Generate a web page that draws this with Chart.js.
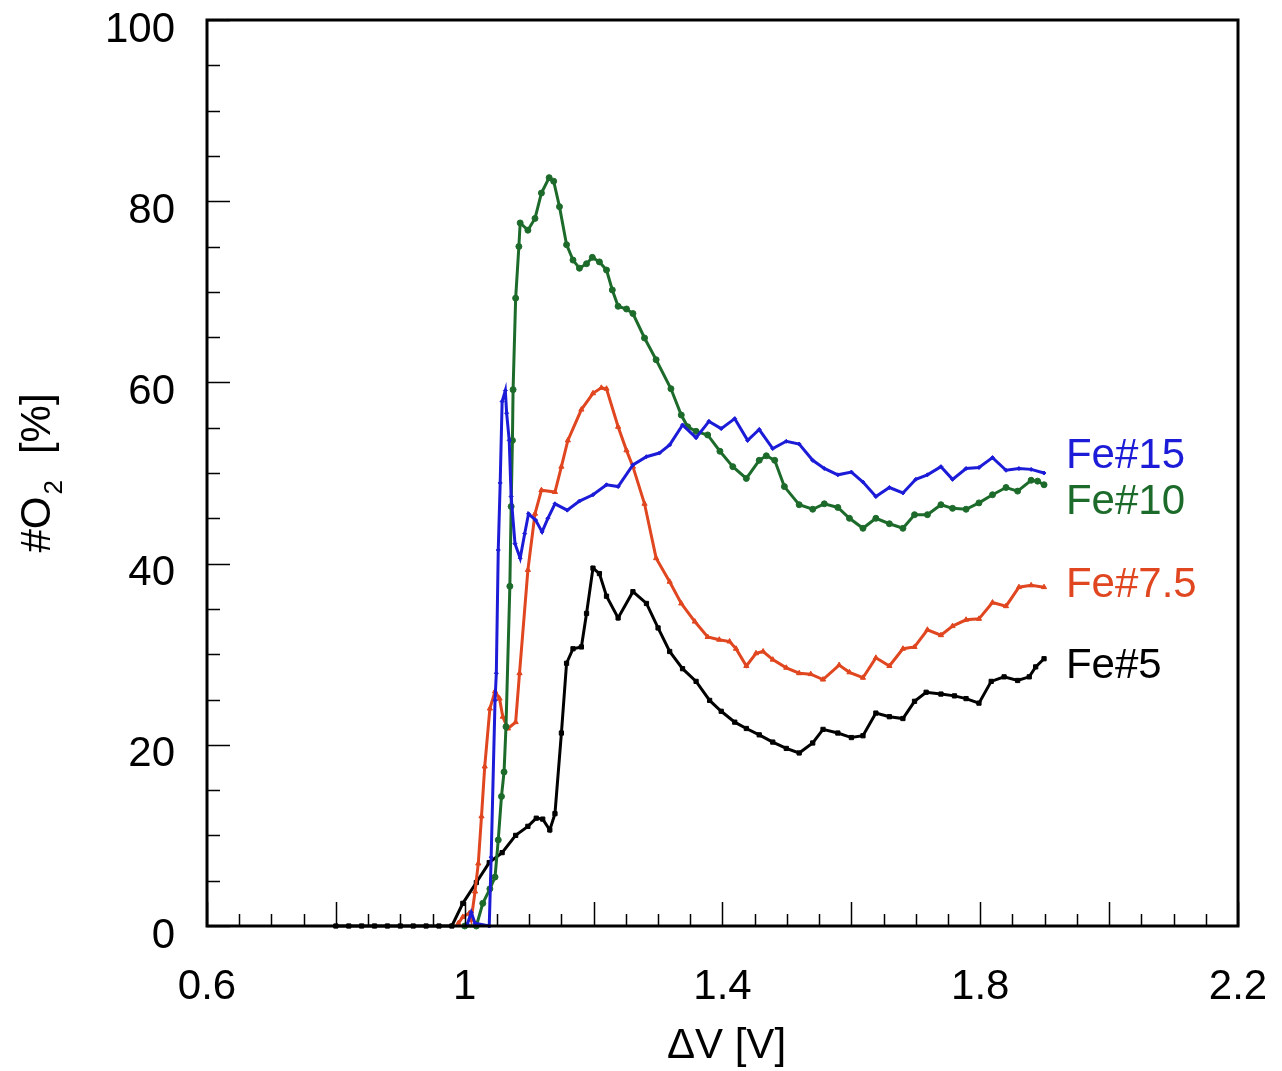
<!DOCTYPE html>
<html>
<head>
<meta charset="utf-8">
<script src="https://cdn.jsdelivr.net/npm/chart.js@4.4.1/dist/chart.umd.min.js"></script>
<style>
html,body{margin:0;padding:0;background:#fff;}
#wrap{width:1282px;height:1071px;position:relative;}
</style>
</head>
<body>
<div id="wrap"><canvas id="c"></canvas></div>
<script>
// ---------- data ----------
const xTickLabels = ['0.6','1','1.4','1.8','2.2'];
const yTickLabels = ['0','20','40','60','80','100'];
const seriesNames = ['Fe#15','Fe#10','Fe#7.5','Fe#5'];

const fe5X = [0.80,0.82,0.84,0.86,0.88,0.90,0.92,0.94,0.96,0.98,0.997,1.018,1.038,1.058,1.079,1.098,1.111,1.121,1.132,1.140,1.150,1.158,1.168,1.181,1.189,1.199,1.209,1.220,1.238,1.261,1.282,1.300,1.318,1.338,1.359,1.380,1.398,1.419,1.437,1.457,1.478,1.499,1.519,1.540,1.556,1.579,1.600,1.618,1.638,1.659,1.680,1.698,1.716,1.739,1.760,1.778,1.798,1.817,1.837,1.858,1.876,1.886,1.899];
const fe5Y = [0,0,0,0,0,0,0,0,0,0,2.5,4.8,7.0,8.1,10.0,11.0,11.9,11.8,10.6,12.4,21.3,29.0,30.6,30.8,34.5,39.5,38.9,36.4,34.0,36.9,35.6,32.9,30.3,28.4,27.0,24.9,23.7,22.5,21.8,21.1,20.3,19.6,19.1,20.2,21.7,21.3,20.8,21.0,23.5,23.1,22.9,24.8,25.8,25.6,25.4,25.1,24.6,27.0,27.5,27.1,27.5,28.6,29.5];

const fe75X = [0.990,0.997,1.007,1.010,1.016,1.021,1.026,1.031,1.039,1.047,1.054,1.059,1.067,1.079,1.085,1.098,1.109,1.119,1.140,1.150,1.160,1.181,1.199,1.212,1.220,1.238,1.251,1.261,1.279,1.297,1.318,1.336,1.357,1.377,1.395,1.411,1.421,1.437,1.452,1.463,1.478,1.499,1.519,1.537,1.556,1.581,1.597,1.618,1.638,1.659,1.680,1.698,1.718,1.739,1.757,1.778,1.798,1.819,1.840,1.860,1.879,1.899];
const fe75Y = [0.3,1.0,1.4,0.7,3.8,6.9,12.1,17.6,24.0,25.9,25.1,23.1,21.8,22.5,27.9,39.3,45.5,48.1,47.9,50.7,53.6,57.0,58.8,59.4,59.3,55.1,52.5,50.7,46.6,40.6,38.0,35.6,33.6,31.9,31.6,31.4,30.6,28.7,30.1,30.3,29.4,28.5,27.9,27.8,27.2,28.8,28.0,27.4,29.6,28.7,30.6,30.8,32.7,32.1,33.1,33.8,33.9,35.7,35.3,37.4,37.6,37.4];

const fe10X = [1.000,1.018,1.028,1.039,1.047,1.052,1.057,1.061,1.064,1.070,1.072,1.074,1.075,1.079,1.084,1.086,1.098,1.109,1.119,1.131,1.138,1.147,1.158,1.168,1.178,1.189,1.198,1.209,1.220,1.229,1.238,1.251,1.261,1.279,1.297,1.320,1.336,1.346,1.359,1.377,1.396,1.416,1.437,1.457,1.468,1.481,1.496,1.519,1.540,1.558,1.579,1.597,1.618,1.638,1.659,1.680,1.698,1.718,1.739,1.757,1.778,1.798,1.819,1.840,1.858,1.879,1.889,1.899];
const fe10Y = [0,0,2.5,4.1,5.4,9.5,14.3,17.0,22.0,37.5,46.3,53.6,59.2,69.3,75.0,77.6,76.8,78.1,80.9,82.6,82.2,79.4,75.2,73.5,72.6,73.1,73.8,73.3,72.4,70.2,68.4,68.1,67.6,64.9,62.5,59.3,56.4,55.1,54.6,54.2,52.4,50.7,49.4,51.4,51.9,51.4,48.5,46.5,46.0,46.6,46.2,45.0,43.9,45.0,44.4,43.9,45.4,45.4,46.5,46.1,46.0,46.7,47.6,48.4,48.0,49.2,49.1,48.7];

const fe15X = [1.004,1.010,1.016,1.038,1.041,1.047,1.049,1.052,1.055,1.058,1.063,1.065,1.069,1.072,1.078,1.086,1.093,1.099,1.110,1.120,1.129,1.140,1.159,1.178,1.199,1.220,1.238,1.261,1.282,1.302,1.318,1.338,1.359,1.379,1.398,1.419,1.439,1.457,1.478,1.499,1.519,1.540,1.558,1.579,1.600,1.618,1.638,1.659,1.680,1.700,1.718,1.739,1.757,1.778,1.798,1.819,1.840,1.860,1.879,1.899];
const fe15Y = [0.2,1.5,0.3,0,7.6,24.9,27.9,41.5,48.9,57.9,59.1,56.6,53.6,47.4,42.2,40.6,43.3,45.5,44.8,43.5,45.0,46.6,45.9,46.9,47.6,48.7,48.5,50.9,51.8,52.2,53.1,55.3,53.9,55.7,54.9,56.0,53.6,54.8,52.7,53.5,53.2,51.4,50.5,49.8,50.1,49.0,47.4,48.4,47.8,49.3,49.8,50.7,49.3,50.5,50.6,51.7,50.3,50.5,50.4,50.0];

// label anchors (data coordinates) for the inline series names
const labelX = 1.933;
const labelY = [51.8, 46.7, 37.6, 28.7];

// ---------- build ----------
const FONT = '"Liberation Sans", Arial, Helvetica, sans-serif';
const colors = ['#1c1cd8', '#1d6b2b', '#e0461f', '#000000'];
const markers = ['rectRot', 'circle', 'triangle', 'rect'];
const xs = [fe15X, fe10X, fe75X, fe5X];
const ys = [fe15Y, fe10Y, fe75Y, fe5Y];

const datasets = seriesNames.map((name, i) => ({
  label: name,
  data: xs[i].map((x, k) => ({x: x, y: ys[i][k]})),
  borderColor: colors[i],
  backgroundColor: colors[i],
  borderWidth: 3,
  pointStyle: markers[i],
  pointRadius: i === 0 ? 2 : 3,
  pointBorderWidth: 1,
  tension: 0,
  clip: false
}));

const frameAndText = {
  id: 'frameAndText',
  afterDatasetsDraw(chart) {
    const {ctx, chartArea, scales} = chart;
    const {left, right, top, bottom} = chartArea;
    const x = scales.x, y = scales.y;
    ctx.save();
    ctx.strokeStyle = '#000';
    ctx.lineWidth = 1.5;
    ctx.beginPath();
    for (let i = 0; i <= 20; i++) {
      const py = Math.round(y.getPixelForValue(i * 5)) + 0.5;
      const len = (i % 4 === 0) ? 23 : 13;
      ctx.moveTo(left, py); ctx.lineTo(left + len, py);
    }
    for (let i = 0; i <= 32; i++) {
      const px = Math.round(x.getPixelForValue(0.6 + i * 0.05)) + 0.5;
      const len = (i % 4 === 0) ? 24 : 12;
      ctx.moveTo(px, bottom); ctx.lineTo(px, bottom - len);
    }
    ctx.stroke();
    ctx.lineWidth = 3;
    ctx.strokeRect(left, top, right - left, bottom - top);

    // series names
    ctx.font = '42px ' + FONT;
    ctx.textAlign = 'left';
    ctx.textBaseline = 'middle';
    seriesNames.forEach((n, i) => {
      ctx.fillStyle = colors[i];
      ctx.fillText(n, x.getPixelForValue(labelX), y.getPixelForValue(labelY[i]));
    });

    // x title
    ctx.fillStyle = '#000';
    ctx.textAlign = 'center';
    ctx.textBaseline = 'middle';
    ctx.font = '42px ' + FONT;
    ctx.fillText('\u0394V [V]', (left + right) / 2 + 4, 1046);

    // y title with subscript, rotated
    ctx.save();
    ctx.translate(36, 474);
    ctx.rotate(-Math.PI / 2);
    const main = '42px ' + FONT, sub = '26px ' + FONT;
    ctx.font = main;
    const w1 = ctx.measureText('#O').width;
    const w3 = ctx.measureText('[%]').width;
    ctx.font = sub;
    const w2 = ctx.measureText('2').width;
    const gap = 26;
    const total = w1 + w2 + gap + w3;
    let cx = -total / 2;
    ctx.textAlign = 'left';
    ctx.textBaseline = 'alphabetic';
    ctx.font = main;
    ctx.fillText('#O', cx, 14);
    cx += w1 + 2;
    ctx.font = sub;
    ctx.fillText('2', cx, 26);
    cx += w2 + gap;
    ctx.font = main;
    ctx.fillText('[%]', cx, 14);
    ctx.restore();

    ctx.restore();
  }
};

new Chart(document.getElementById('c'), {
  type: 'line',
  data: {datasets},
  options: {
    responsive: true,
    maintainAspectRatio: false,
    animation: false,
    layout: {padding: {top: 20, right: 44, left: 0, bottom: 0}},
    plugins: {legend: {display: false}, tooltip: {enabled: false}},
    elements: {line: {fill: false}},
    scales: {
      x: {
        type: 'linear', min: 0.6, max: 2.2,
        grid: {display: false, drawTicks: false},
        border: {display: false},
        ticks: {
          stepSize: 0.4, padding: 36, color: '#000',
          font: {size: 42, family: FONT},
          maxRotation: 0, autoSkip: false,
          callback: (v, i) => xTickLabels[i]
        },
        afterFit(s) { s.height = 145; s.paddingLeft = 0; s.paddingRight = 0; }
      },
      y: {
        type: 'linear', min: 0, max: 100,
        grid: {display: false, drawTicks: false},
        border: {display: false},
        ticks: {
          stepSize: 20, padding: 32, color: '#000', labelOffset: 10,
          font: {size: 42, family: FONT},
          callback: (v, i) => yTickLabels[i]
        },
        afterFit(s) { s.width = 207; s.paddingTop = 0; s.paddingBottom = 0; }
      }
    }
  },
  plugins: [frameAndText]
});
</script>
</body>
</html>
